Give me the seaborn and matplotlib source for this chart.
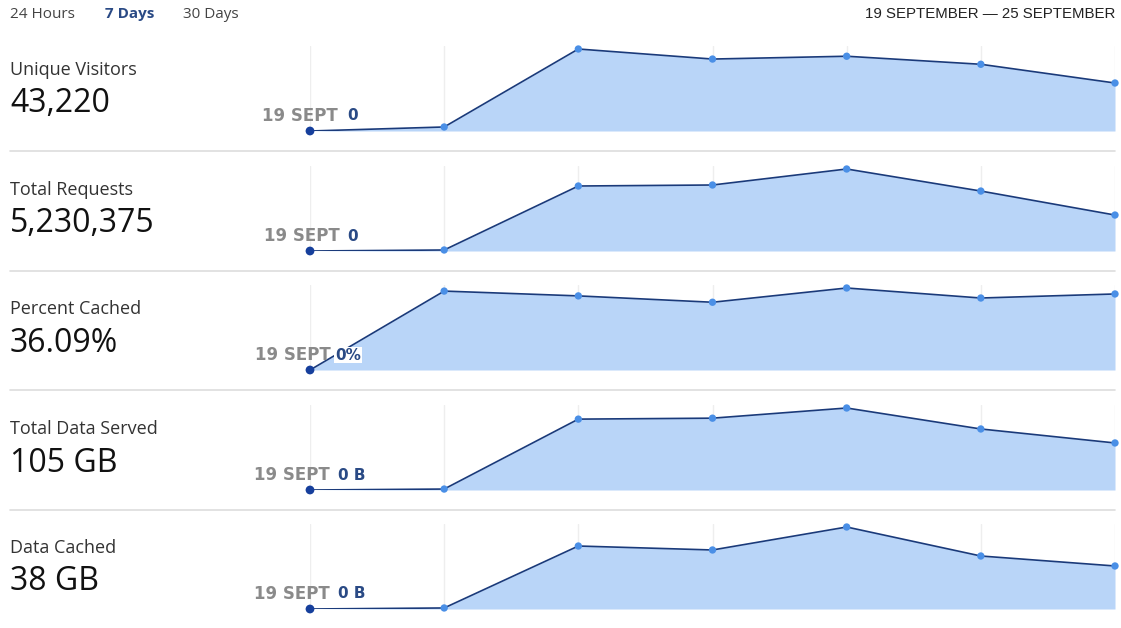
import numpy as np
import pandas as pd
import seaborn as sns
import matplotlib.pyplot as plt

# values, one list per metric (19..25 Sept)
days = ['19 Sep', '20 Sep', '21 Sep', '22 Sep', '23 Sep', '24 Sep', '25 Sep']
unique_visitors = [0, 500, 10200, 8950, 9300, 8300, 5970]
total_requests = [0, 17000, 1097000, 1114000, 1384000, 1012000, 607000]
percent_cached = [0, 41.0, 38.5, 35.2, 42.6, 37.4, 39.5]
data_served_gb = [0, 0.3, 22.3, 22.6, 25.8, 19.2, 14.8]
data_cached_gb = [0, 0.13, 7.95, 7.45, 10.35, 6.69, 5.43]

titles = ['Unique Visitors', 'Total Requests', 'Percent Cached',
          'Total Data Served', 'Data Cached']
totals = ['43,220', '5,230,375', '36.09%', '105 GB', '38 GB']
first_labels = ['0', '0', '0%', '0 B', '0 B']
series = [unique_visitors, total_requests, percent_cached,
          data_served_gb, data_cached_gb]

ranges = ['24 Hours', '7 Days', '30 Days']
period = '19 SEPTEMBER \u2014 25 SEPTEMBER'

sns.set_theme(style='white')
plt.rcParams['font.family'] = ['Open Sans', 'DejaVu Sans']

W, H = 1121, 628
fig = plt.figure(figsize=(W / 100, H / 100), dpi=100)

fill_c = '#b9d5f8'
line_c = '#1a3a7a'
dot_c = '#4a8fe6'
first_c = '#163f9c'
grey_txt = '#8a8a8a'
navy_txt = '#2a4a85'

# baselines (pixel y of zero) for each panel
baselines = [131, 251, 370, 490, 609]
gray_end = [28, 30, 21, 20, 20]
val_start = [37, 37, 25, 28, 28]
x0, x1 = 310, 1115
ax_h = 85
px = 0.72  # points per pixel

# top row
fig.text(10 / W, 1 - 14 / H, ranges[0], fontsize=11, color='#444444', va='center')
fig.text(105 / W, 1 - 14 / H, ranges[1], fontsize=11, color=navy_txt,
         fontweight='bold', va='center')
fig.text(183 / W, 1 - 14 / H, ranges[2], fontsize=11, color='#444444', va='center')
fig.text(1115 / W, 1 - 14 / H, period, fontsize=10.8, color='#222222',
         family='Liberation Sans', ha='right', va='center')

for i, vals in enumerate(series):
    base = baselines[i]
    vmax = max(vals)
    ax = fig.add_axes([x0 / W, 1 - base / H, (x1 - x0) / W, ax_h / H])
    df = pd.DataFrame({'day': np.arange(len(days)), 'value': vals})
    ax.fill_between(df['day'], 0, df['value'], color=fill_c, lw=0, zorder=1)
    sns.lineplot(data=df, x='day', y='value', ax=ax, color=line_c, lw=1.2, zorder=3)
    sns.scatterplot(data=df.iloc[1:], x='day', y='value', ax=ax, color=dot_c,
                    s=28, edgecolor='none', zorder=4, clip_on=False)
    sns.scatterplot(data=df.iloc[:1], x='day', y='value', ax=ax, color=first_c,
                    s=40, edgecolor='none', zorder=5, clip_on=False)
    ax.set_xlim(0, len(days) - 1)
    ax.set_ylim(0, vmax * ax_h / 82)
    ax.set_xticks(df['day'])
    ax.grid(axis='x', color='#eeeeee', lw=1)
    ax.set_axisbelow(True)
    ax.tick_params(left=False, bottom=False, labelleft=False, labelbottom=False)
    ax.set_xlabel('')
    ax.set_ylabel('')
    for s in ax.spines.values():
        s.set_visible(False)
    ax.patch.set_alpha(0)

    # first-day label
    ax.annotate('19 SEPT', xy=(0, 0), xytext=(gray_end[i] * px, 15 * px),
                textcoords='offset points', ha='right', va='center',
                fontsize=12, fontweight='bold', color=grey_txt,
                family='DejaVu Sans', zorder=6)
    bbox = dict(fc='white', ec='none', pad=0.5) if i == 2 else None
    ax.annotate(first_labels[i], xy=(0, 0), xytext=(val_start[i] * px, 15 * px),
                textcoords='offset points', ha='left', va='center',
                fontsize=11, fontweight='bold', color=navy_txt,
                family='DejaVu Sans', bbox=bbox, zorder=6)

    # left labels
    fig.text(10 / W, 1 - (base - 61) / H, titles[i], fontsize=13,
             color='#333333', va='center')
    fig.text(10 / W, 1 - (base - 27) / H, totals[i], fontsize=23,
             color='#111111', va='center')

    # separator below panel
    if i < 4:
        sep_y = 1 - (base + 20) / H
        fig.add_artist(plt.Line2D([10 / W, 1115 / W], [sep_y, sep_y],
                                  color='#dddddd', lw=1.2))

fig.savefig('out.png', dpi=100, facecolor='white')
